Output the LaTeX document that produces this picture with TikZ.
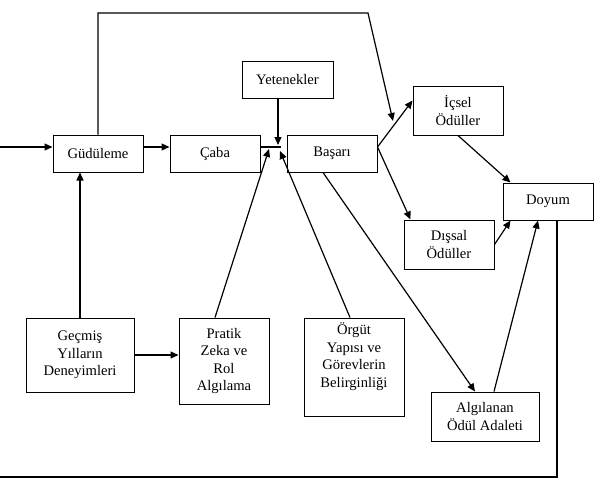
\documentclass[tikz,border=0pt]{standalone}
\usepackage{fontspec}
\setmainfont{Liberation Serif}
\usepackage{tikz}
\usetikzlibrary{arrows.meta,calc}

\begin{document}
\begin{tikzpicture}[x=1pt, y=-1pt,
    kutu/.style={draw, line width=1pt, align=center, inner sep=0pt,
                 minimum width=90pt, minimum height=37pt,
                 font=\fontsize{14.6}{17.5}\selectfont},
    ok/.style={line width=1.2pt, -{Triangle[length=8pt,width=7pt]}},
    cizgi/.style={line width=1.2pt}]
    \useasboundingbox (0,0) rectangle (598,479);

    % boxes
    \node[kutu] (gud) at (98,153.5) {Güdüleme};
    \node[kutu] (caba) at (215,153.5) {Çaba};
    \node[kutu, minimum width=91pt] (yet) at (287.5,79.5) {Yetenekler};
    \node[kutu] (bas) at (332,153.5) {Başarı};
    \node[kutu, minimum height=49pt] (icsel) at (458,110.5) {İçsel\\Ödüller};
    \node[kutu] (doyum) at (548,201.5) {Doyum};
    \node[kutu, minimum height=49pt] (dissal) at (449,244.5) {Dışsal\\Ödüller};
    \node[kutu, minimum width=108pt, minimum height=74pt] (gecmis) at (80,355)
      {Geçmiş\\Yılların\\Deneyimleri};
    \node[kutu, minimum height=86pt] (pratik) at (224,361)
      {Pratik\\Zeka ve\\Rol\\Algılama};
    \node[kutu, minimum width=100pt, minimum height=98pt] (orgut) at (354,367)
      {Örgüt\\Yapısı ve\\Görevlerin\\Belirginliği\\[6pt]};
    \node[kutu, minimum width=108pt, minimum height=49pt] (alg) at (485,416.5)
      {Algılanan\\Ödül Adaleti};

    % free ends
    \coordinate (giris) at (0,147);
    \coordinate (kav) at (281,147);
    \coordinate (kyet) at (278,145);
    \coordinate (kpr) at (269,149);
    \coordinate (korg) at (280,151);
    \coordinate (ust) at (368,13);
    \coordinate (kic) at (393,121);
    \coordinate (alt) at (0,477);

    % main line
    \draw[ok] (giris) -- (giris -| gud.west);
    \draw[ok] (gud.east |- giris) -- (caba.west |- giris);
    \draw[cizgi] (caba.east |- giris) -- (kav);
    \draw[ok] (kyet |- yet.south) -- (kyet);
    \draw[ok] ($(pratik.north)+(-9,0)$) -- (kpr);
    \draw[ok] ($(orgut.north)+(-4,0)$) -- (korg);
    \draw[ok] (gecmis.north) -- (gecmis.north |- gud.south);
    \draw[ok] (gecmis.east) -- (gecmis.east -| pratik.west);

    % rewards
    \draw[ok] (gud.north) |- (ust) -- (kic);
    \draw[ok] (bas.east |- giris) -- ($(icsel.west)+(0,-10)$);
    \draw[ok] (bas.east |- giris) -- ($(dissal.north west)+(7,0)$);
    \draw[ok] (icsel.south) -- ($(doyum.north west)+(8,0)$);
    \draw[ok] (dissal.east) -- ($(doyum.south west)+(8,0)$);
    \draw[ok] ($(bas.south)+(-9,0)$) -- ($(alg.north)+(-10,0)$);
    \draw[ok] ($(alg.north)+(9,0)$) -- ($(doyum.south)+(-10,0)$);

    % feedback
    \draw[cizgi] ($(doyum.south)+(9,0)$) |- (alt);
\end{tikzpicture}
\end{document}
